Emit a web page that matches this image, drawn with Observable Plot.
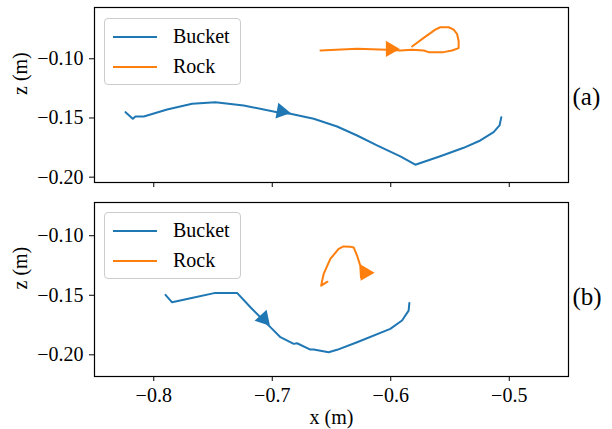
<!DOCTYPE html>
<html>
<head>
<meta charset="utf-8">
<script src="https://cdn.jsdelivr.net/npm/d3@7"></script>
<script src="https://cdn.jsdelivr.net/npm/@observablehq/plot@0.6"></script>
<style>
  html, body { margin: 0; padding: 0; background: #fff; }
  #root { position: relative; width: 612px; height: 429px; overflow: hidden; font-family: 'Liberation Serif', 'Times New Roman', Times, 'DejaVu Serif', serif; }
  .panel { position: absolute; left: 0; }
  .legend { position: absolute; box-sizing: border-box; border: 1px solid #cccccc; border-radius: 4px; background: rgba(255,255,255,0.8); }
  .legend .item { position: absolute; left: 0; height: 0; }
  .legend .swatch { position: absolute; left: 8px; width: 44px; height: 2px; top: -1px; }
  .legend .lbl { position: absolute; left: 68px; top: 0; transform: translateY(-55%); font-size: 20px; line-height: 1; color: #000; white-space: nowrap; font-family: 'Liberation Serif', 'Times New Roman', Times, 'DejaVu Serif', serif; }
</style>
</head>
<body>
<div id="root"></div>
<script>
// ---- data ----
const seriesNames = ["Bucket", "Rock"];
const seriesColors = ["#1f77b4", "#ff7f0e"];
const xTicks = [-0.8, -0.7, -0.6, -0.5];
const zTicks = [-0.20, -0.15, -0.10];
const panelLabels = ["(a)", "(b)"];

// Panel (a)
const bucketA_x = [-0.8238, -0.8177, -0.8154, -0.8084, -0.7887, -0.7676, -0.7480, -0.7241, -0.6959, -0.6847, -0.6650, -0.6453, -0.6284, -0.6116, -0.5919, -0.5793, -0.5582, -0.5385, -0.5244, -0.5132, -0.5082, -0.5067];
const bucketA_z = [-0.1451, -0.1507, -0.1487, -0.1487, -0.1428, -0.1380, -0.1367, -0.1394, -0.1451, -0.1465, -0.1507, -0.1572, -0.1648, -0.1732, -0.1825, -0.1895, -0.1823, -0.1752, -0.1690, -0.1620, -0.1563, -0.1493];
const rockA_x = [-0.6593, -0.6284, -0.6031, -0.5919, -0.5820, -0.5722, -0.5680, -0.5554, -0.5483, -0.5427, -0.5427, -0.5441, -0.5469, -0.5511, -0.5582, -0.5624, -0.5722, -0.5820];
const rockA_z = [-0.0930, -0.0916, -0.0924, -0.0930, -0.0924, -0.0930, -0.0944, -0.0944, -0.0930, -0.0910, -0.0852, -0.0789, -0.0754, -0.0734, -0.0734, -0.0754, -0.0824, -0.0896];
const arrowsA_x = [-0.6922, -0.6002];
const arrowsA_z = [-0.1445, -0.0917];
const arrowsA_dir = [100, 90];

// Panel (b)
const bucketB_x = [-0.7901, -0.7845, -0.7690, -0.7480, -0.7297, -0.7184, -0.7072, -0.7001, -0.6931, -0.6819, -0.6791, -0.6678, -0.6650, -0.6524, -0.6453, -0.6284, -0.6004, -0.5905, -0.5849, -0.5843];
const bucketB_z = [-0.1497, -0.1559, -0.1525, -0.1480, -0.1480, -0.1601, -0.1712, -0.1782, -0.1852, -0.1908, -0.1903, -0.1956, -0.1956, -0.1978, -0.1958, -0.1894, -0.1782, -0.1712, -0.1629, -0.1564];
const rockB_x = [-0.6534, -0.6587, -0.6577, -0.6566, -0.6510, -0.6440, -0.6398, -0.6341, -0.6313, -0.6284, -0.6257, -0.6251];
const rockB_z = [-0.1386, -0.1419, -0.1369, -0.1321, -0.1195, -0.1111, -0.1090, -0.1092, -0.1098, -0.1168, -0.1251, -0.1350];
const arrowsB_x = [-0.7072, -0.6215];
const arrowsB_z = [-0.1697, -0.1310];
const arrowsB_dir = [138, 90];

// ---- build ----
const FONT = "'Liberation Serif', 'Times New Roman', Times, 'DejaVu Serif', serif";
const toRows = (xs, zs) => xs.map((x, i) => ({x, z: zs[i]}));
const fmtY = d3.format(".2f");
const fmtX = d3.format(".1f");

function panel(cfg) {
  const arrows = cfg.ax.map((x, i) => ({x, z: cfg.az[i], dir: cfg.adir[i], s: seriesNames[i]}));
  const marks = [
    Plot.line(toRows(cfg.bx, cfg.bz), {x: "x", y: "z", stroke: seriesColors[0], strokeWidth: 2}),
    Plot.line(toRows(cfg.rx, cfg.rz), {x: "x", y: "z", stroke: seriesColors[1], strokeWidth: 2}),
    Plot.dot(arrows, {x: "x", y: "z", symbol: "triangle", r: 6, fill: (d, i) => seriesColors[i], stroke: "none", rotate: "dir"}),
    Plot.frame({stroke: "black", strokeWidth: 1.2}),
    Plot.axisY({ticks: zTicks, tickFormat: fmtY, tickSize: 5, tickPadding: 6, label: null, stroke: "black", fontFamily: FONT}),
    Plot.axisX({ticks: xTicks, tickFormat: cfg.showX ? fmtX : () => "", tickSize: 5, tickPadding: 6, label: null, stroke: "black", fontFamily: FONT}),
    Plot.text(["z (m)"], {frameAnchor: "left", dx: -74, rotate: -90, fontSize: 20, fontFamily: FONT}),
    Plot.text([cfg.label], {frameAnchor: "right", dx: 4, dy: cfg.labelDy, textAnchor: "start", fontSize: 25, fontFamily: FONT})
  ];
  if (cfg.showX) marks.push(Plot.text(["x (m)"], {frameAnchor: "bottom", dy: 47, fontSize: 20, fontFamily: FONT}));
  const svg = Plot.plot({
    width: 612,
    height: cfg.height,
    marginLeft: 94,
    marginRight: 44,
    marginTop: cfg.marginTop,
    marginBottom: cfg.marginBottom,
    x: {domain: [-0.85, -0.45]},
    y: {domain: cfg.zDomain},
    style: {fontFamily: FONT, fontSize: "20px", color: "black", background: "transparent", overflow: "visible"},
    marks
  });
  return svg;
}

function legend(top) {
  const lg = document.createElement("div");
  lg.className = "legend";
  lg.style.left = "104px";
  lg.style.top = top + "px";
  lg.style.width = "137px";
  lg.style.height = "67px";
  seriesNames.forEach((name, i) => {
    const item = document.createElement("div");
    item.className = "item";
    item.style.top = (18 + i * 30) + "px";
    const sw = document.createElement("div");
    sw.className = "swatch";
    sw.style.background = seriesColors[i];
    const t = document.createElement("div");
    t.className = "lbl";
    t.textContent = name;
    item.appendChild(sw);
    item.appendChild(t);
    lg.appendChild(item);
  });
  return lg;
}

const root = document.getElementById("root");

const pa = panel({
  bx: bucketA_x, bz: bucketA_z, rx: rockA_x, rz: rockA_z,
  ax: arrowsA_x, az: arrowsA_z, adir: arrowsA_dir,
  zDomain: [-0.2045, -0.0567], height: 195, marginTop: 7, marginBottom: 13,
  showX: false, label: panelLabels[0], labelDy: 1.5
});
pa.classList.add("panel"); pa.style.top = "0px";
root.appendChild(pa);

const pb = panel({
  bx: bucketB_x, bz: bucketB_z, rx: rockB_x, rz: rockB_z,
  ax: arrowsB_x, az: arrowsB_z, adir: arrowsB_dir,
  zDomain: [-0.2182, -0.0721], height: 234, marginTop: 7, marginBottom: 53,
  showX: true, label: panelLabels[1], labelDy: 7
});
pb.classList.add("panel"); pb.style.top = "195px";
root.appendChild(pb);

root.appendChild(legend(18));
root.appendChild(legend(212));
</script>
</body>
</html>
